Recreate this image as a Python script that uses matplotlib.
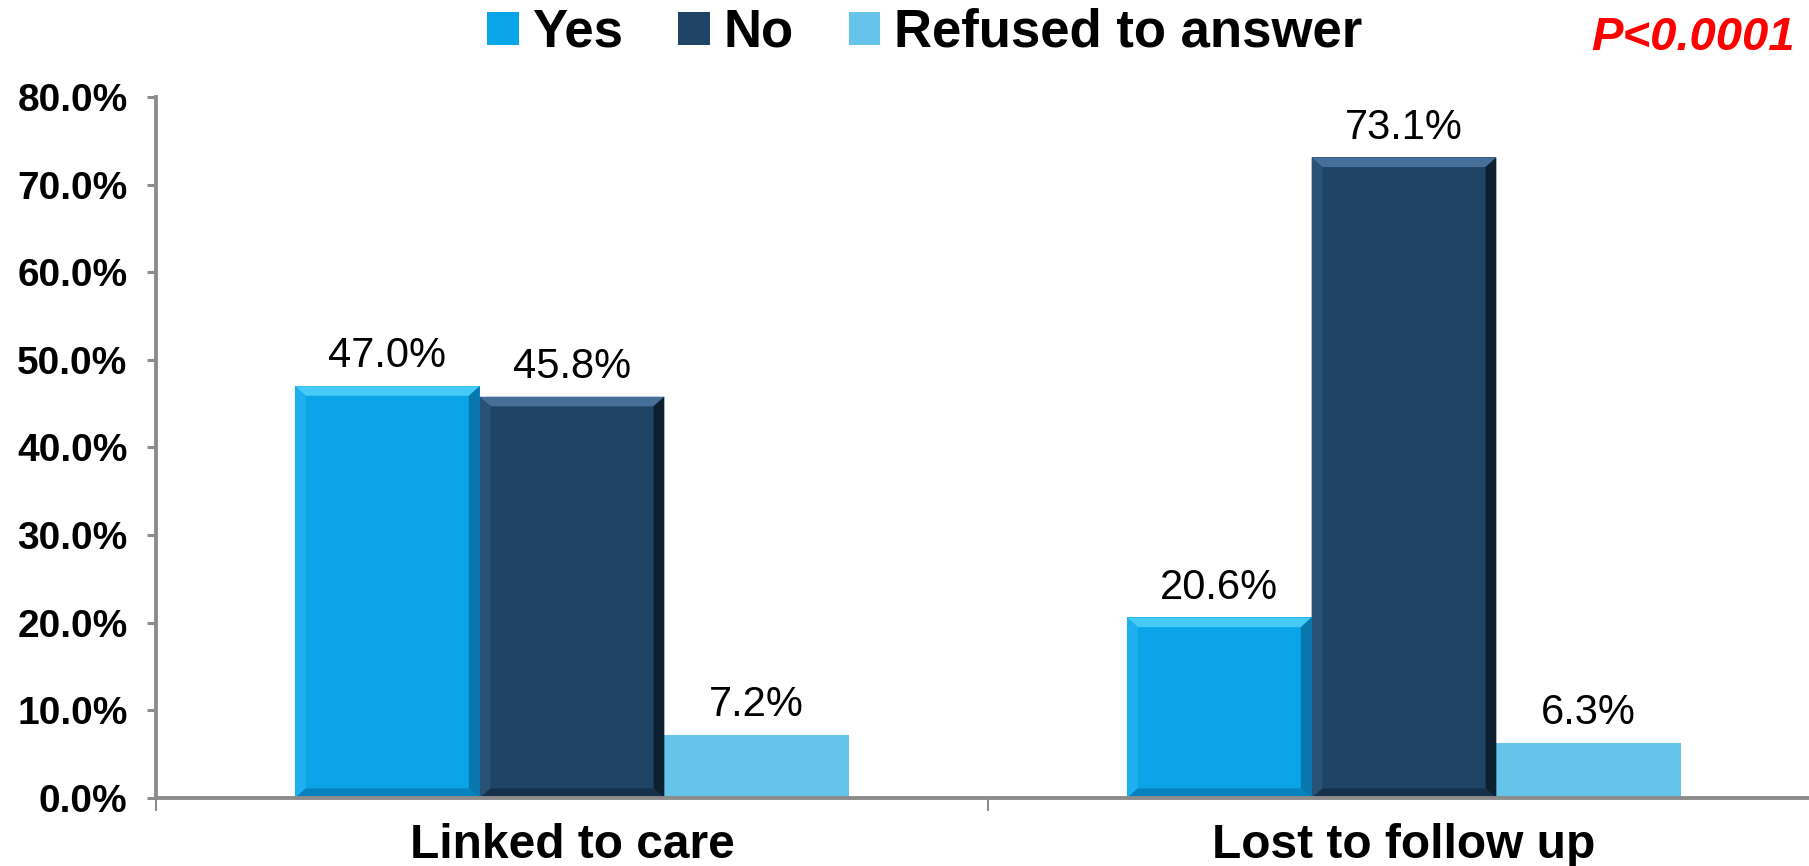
import matplotlib.pyplot as plt
import numpy as np
from matplotlib.patches import Polygon
from matplotlib.ticker import FuncFormatter

# data
categories = ['Linked to care', 'Lost to follow up']
series_names = ['Yes', 'No', 'Refused to answer']
yes_vals = [47.0, 20.6]
no_vals = [45.8, 73.1]
refused_vals = [7.2, 6.3]
colors = ['#0AA5E8', '#1F4466', '#66C3E9']
y_ticks = [0, 10, 20, 30, 40, 50, 60, 70, 80]

# bevel shades (top, left, right, bottom) for the 3d-looking bars
bevels = [
    ['#45CBF6', '#1DB0EC', '#0678AE', '#0782BE'],
    ['#46709A', '#2A5277', '#0E1F31', '#15304A'],
    None,
]

plt.rcParams['font.family'] = ['Liberation Sans', 'DejaVu Sans']
axis_gray = '#8C8C8C'

fig = plt.figure(figsize=(18.09, 8.66), dpi=100)
ax = fig.add_axes([156 / 1809, 68 / 866, 1664 / 1809, 701 / 866])

x = np.arange(len(categories))
width = 0.222
bx, by = 0.013, 1.1  # bevel size in data units (~10 px)
series = [yes_vals, no_vals, refused_vals]
for i, (name, vals, col) in enumerate(zip(series_names, series, colors)):
    offs = (i - 1) * width
    bars = ax.bar(x + offs, vals, width, color=col, label=name, linewidth=0, zorder=3)
    for b, v in zip(bars, vals):
        if bevels[i] is not None:
            x0, x1 = b.get_x(), b.get_x() + b.get_width()
            top, left, right, bot = bevels[i]
            ax.add_patch(Polygon([(x0, v), (x1, v), (x1 - bx, v - by), (x0 + bx, v - by)],
                                 closed=True, color=top, lw=0, zorder=4))
            ax.add_patch(Polygon([(x0, 0), (x0, v), (x0 + bx, v - by), (x0 + bx, by)],
                                 closed=True, color=left, lw=0, zorder=4))
            ax.add_patch(Polygon([(x1, 0), (x1, v), (x1 - bx, v - by), (x1 - bx, by)],
                                 closed=True, color=right, lw=0, zorder=4))
            ax.add_patch(Polygon([(x0, 0), (x1, 0), (x1 - bx, by), (x0 + bx, by)],
                                 closed=True, color=bot, lw=0, zorder=4))
        ax.annotate(f'{v:.1f}%', (b.get_x() + b.get_width() / 2, v),
                    xytext=(0, 7), textcoords='offset points',
                    ha='center', va='bottom', fontsize=30, color='black')

ax.set_xlim(-0.5, 1.5)
ax.set_ylim(0, 80)
ax.set_yticks(y_ticks)
ax.yaxis.set_major_formatter(FuncFormatter(lambda v, p: f'{v:.1f}%'))
ax.tick_params(axis='y', direction='out', length=6.5, width=2.2, color=axis_gray,
               labelsize=28, pad=14)
for lab in ax.get_yticklabels():
    lab.set_fontweight('bold')

ax.set_xticks(x)
ax.set_xticklabels(categories, fontsize=34.5, fontweight='bold')
ax.tick_params(axis='x', which='major', length=0, pad=18)
ax.set_xticks([-0.5, 0.5, 1.5], minor=True)
ax.tick_params(axis='x', which='minor', direction='out', length=9, width=1.5, color=axis_gray)

for s in ['top', 'right']:
    ax.spines[s].set_visible(False)
for s in ['left', 'bottom']:
    ax.spines[s].set_color(axis_gray)
    ax.spines[s].set_linewidth(2.8)
    ax.spines[s].set_zorder(5)

handles, labels = ax.get_legend_handles_labels()
leg = fig.legend(handles, labels, loc='center', bbox_to_anchor=(0.511, 0.962), ncol=3,
                 frameon=False, prop={'size': 38, 'weight': 'bold'},
                 handlelength=0.6, handleheight=0.6, handletextpad=0.25, columnspacing=1.05)

fig.text(0.9923, 0.956, 'P<0.0001', color='red', fontsize=34, fontweight='bold',
         fontstyle='italic', ha='right', va='center')

fig.savefig('out.png', dpi=100)
